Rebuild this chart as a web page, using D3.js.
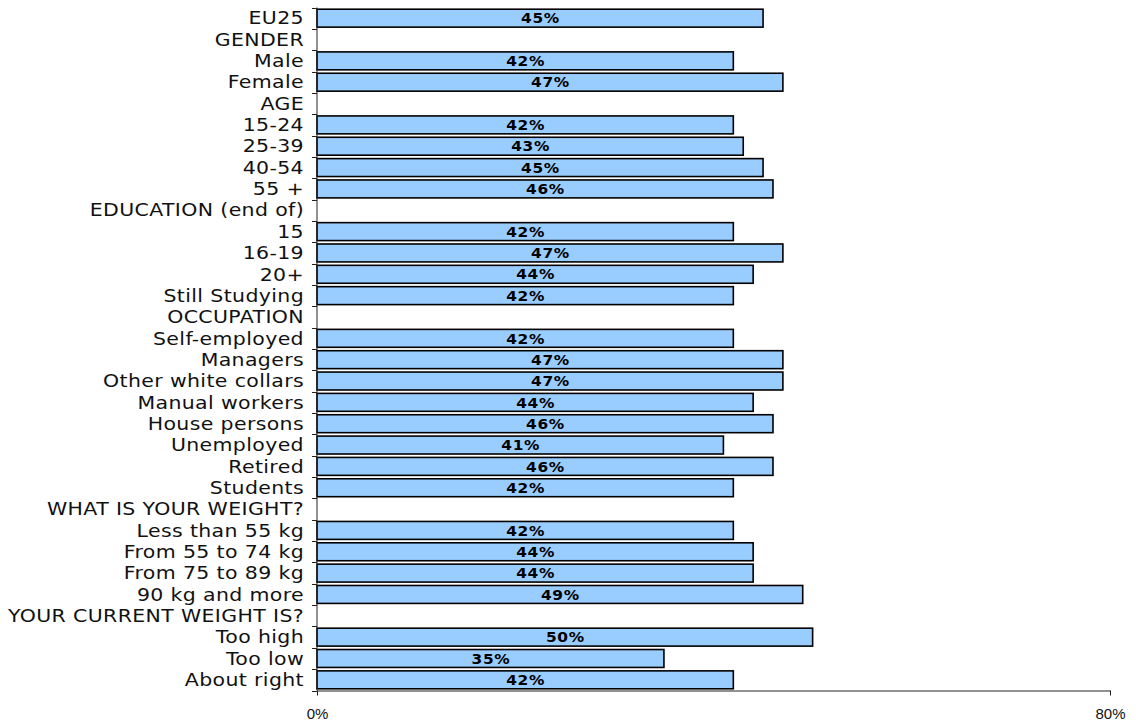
<!DOCTYPE html>
<html><head><meta charset="utf-8">
<script src="https://cdn.jsdelivr.net/npm/d3@7"></script>
<style>body{margin:0;background:#fff}</style>
</head><body>
<svg id="c" width="1136" height="723"></svg>
<script>
const categories = ["EU25","GENDER","Male","Female","AGE","15-24","25-39","40-54","55 +","EDUCATION (end of)","15","16-19","20+","Still Studying","OCCUPATION","Self-employed","Managers","Other white collars","Manual workers","House persons","Unemployed","Retired","Students","WHAT IS YOUR WEIGHT?","Less than 55 kg","From 55 to 74 kg","From 75 to 89 kg","90 kg and more","YOUR CURRENT WEIGHT IS?","Too high","Too low","About right"];
const values = [45,null,42,47,null,42,43,45,46,null,42,47,44,42,null,42,47,47,44,46,41,46,42,null,42,44,44,49,null,50,35,42];
const xTicks = [0,80];

(function(){
const svg = d3.select("#c");
const pL = 317, pR = 1110, pT = 7.5, pB = 690.5;
const x = d3.scaleLinear().domain([0,80]).range([pL,pR]);
const y = d3.scaleBand().domain(categories).range([pT,pB]).paddingInner(0.16).paddingOuter(0.08);

const data = categories.map((c,i)=>({c, v: values[i]})).filter(d=>d.v!==null);

svg.append("g").selectAll("rect").data(data).enter().append("rect")
  .attr("x", x(0)).attr("y", d=>y(d.c))
  .attr("width", d=>x(d.v)-x(0)).attr("height", y.bandwidth())
  .attr("fill","#99CCFF").attr("stroke","#000").attr("stroke-width",1.6);

svg.append("g").selectAll("text").data(data).enter().append("text")
  .attr("transform", d=>`translate(${(x(0)+x(d.v))/2 + 0.5},${y(d.c)+y.bandwidth()/2}) scale(1.1,1)`)
  .attr("dy","0.37em").attr("text-anchor","middle")
  .attr("font-family","DejaVu Sans, Verdana, sans-serif").attr("font-weight","bold")
  .attr("font-size","14px").attr("letter-spacing","0.6px").attr("fill","#000")
  .text(d=>d.v+"%");

const step = (pB-pT)/categories.length;
const ag = svg.append("g");
ag.append("line").attr("x1",pL).attr("x2",pL).attr("y1",pT).attr("y2",pB).attr("stroke","#222").attr("stroke-width",1);
ag.selectAll("line.t").data(d3.range(categories.length+1)).enter().append("line")
  .attr("x1",pL-5).attr("x2",pL).attr("y1",i=>Math.round(pT+i*step)+0.5).attr("y2",i=>Math.round(pT+i*step)+0.5)
  .attr("stroke","#222");
ag.selectAll("text").data(categories).enter().append("text")
  .attr("transform", d=>`translate(${pL-13},${y(d)+y.bandwidth()/2}) scale(1.22,1)`)
  .attr("dy","0.37em")
  .attr("text-anchor","end").attr("font-family","DejaVu Sans, Verdana, sans-serif")
  .attr("font-size","16.8px").attr("letter-spacing","0.3px").attr("fill","#111").text(d=>d);

const xa = d3.axisBottom(x).tickValues(xTicks).tickFormat(d=>d+"%").tickSize(5).tickSizeOuter(0);
const xg = svg.append("g").attr("transform",`translate(0,${pB})`).call(xa);
xg.select(".domain").attr("stroke","#222");
xg.selectAll(".tick line").attr("stroke","#222");
xg.selectAll("text").attr("font-family","Liberation Sans, Arial, sans-serif").attr("font-size","15px").attr("fill","#111").attr("y",28).attr("dy","0");
})();
</script>
</body></html>
